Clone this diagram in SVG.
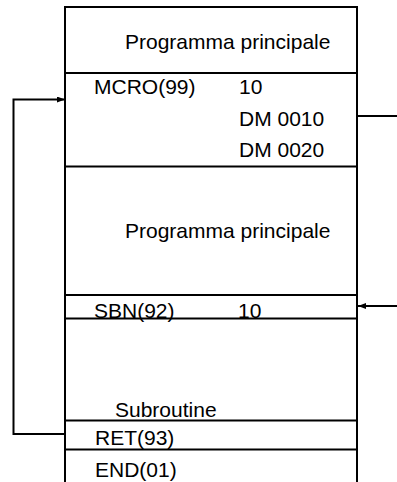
<svg xmlns="http://www.w3.org/2000/svg" width="397" height="482" viewBox="0 0 397 482">
<style>
.ln{stroke:#000;stroke-width:2;fill:none}
.t{font-family:"Liberation Sans",Arial,sans-serif;font-size:21px;fill:#000}
</style>
<defs>
<marker id="ah" markerWidth="8" markerHeight="6" refX="8" refY="3" orient="auto" markerUnits="userSpaceOnUse">
<path d="M0,0 L8,3 L0,6 Z" fill="#000"/>
</marker>
</defs>
<rect width="397" height="482" fill="#fff"/>
<g id="frame">
<line class="ln" x1="65" y1="7" x2="357" y2="7"/>
<line class="ln" x1="65" y1="6" x2="65" y2="482"/>
<line class="ln" x1="357" y1="6" x2="357" y2="482"/>
</g>
<g id="main1">
<text class="t" x="125" y="49">Programma principale</text>
<line class="ln" x1="65" y1="73" x2="357" y2="73"/>
</g>
<g id="mcro">
<text class="t" x="94" y="94">MCRO(99)</text>
<text class="t" x="239" y="94">10</text>
<text class="t" x="239" y="126">DM 0010</text>
<text class="t" x="239" y="157">DM 0020</text>
<line class="ln" x1="65" y1="166.5" x2="357" y2="166.5"/>
</g>
<g id="main2">
<text class="t" x="125" y="238">Programma principale</text>
<line class="ln" x1="65" y1="295" x2="357" y2="295"/>
</g>
<g id="sbn">
<text class="t" x="94" y="318">SBN(92)</text>
<text class="t" x="238" y="318">10</text>
<line class="ln" x1="65" y1="318.5" x2="357" y2="318.5"/>
</g>
<g id="sub">
<text class="t" x="115" y="417">Subroutine</text>
<line class="ln" x1="65" y1="420.5" x2="357" y2="420.5"/>
</g>
<g id="ret">
<text class="t" x="95" y="445">RET(93)</text>
<line class="ln" x1="65" y1="449.5" x2="357" y2="449.5"/>
</g>
<g id="end">
<text class="t" x="95" y="477">END(01)</text>
</g>
<g id="connectors">
<polyline class="ln" points="65,434 13.5,434 13.5,99.5 65,99.5" marker-end="url(#ah)"/>
<line class="ln" x1="357" y1="116" x2="397" y2="116"/>
<line class="ln" x1="397" y1="306" x2="358" y2="306" marker-end="url(#ah)"/>
</g>
</svg>
